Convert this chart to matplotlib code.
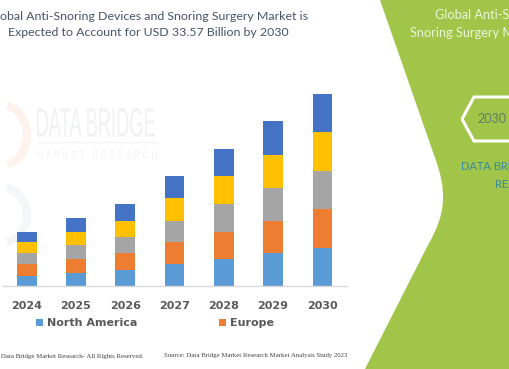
import numpy as np
import matplotlib.pyplot as plt
from matplotlib.path import Path
from matplotlib.patches import PathPatch, Polygon, Patch, Arc
from matplotlib.textpath import TextPath
from matplotlib.font_manager import FontProperties
import matplotlib.transforms as mtransforms

# data (USD billion)
years = ['2024', '2025', '2026', '2027', '2028', '2029', '2030']
north_america = [1.76, 2.34, 2.75, 3.81, 4.69, 5.68, 6.68]
europe = [2.05, 2.40, 2.99, 3.81, 4.75, 5.74, 6.74]
asia_pacific = [1.87, 2.34, 2.75, 3.75, 4.86, 5.74, 6.74]
middle_east_africa = [1.93, 2.40, 2.93, 3.98, 4.86, 5.80, 6.74]
south_america = [1.87, 2.46, 2.93, 3.87, 4.80, 5.86, 6.67]

series = [north_america, europe, asia_pacific, middle_east_africa, south_america]
names = ['North America', 'Europe', 'Asia-Pacific', 'Middle East and Africa', 'South America']
colors = ['#5B9BD5', '#ED7D31', '#A5A5A5', '#FFC000', '#4472C4']

W, H = 510, 369
fig = plt.figure(figsize=(W / 100, H / 100), dpi=100)
fig.patch.set_facecolor('white')

# background layer in pixel coordinates (watermark + green side panel)
bg = fig.add_axes([0, 0, 1, 1], zorder=0)
bg.set_xlim(0, W)
bg.set_ylim(H, 0)
bg.axis('off')

# faint watermark
def stretched_text(ax, s, x0, y0, w, h, color, family='Liberation Sans'):
    tp = TextPath((0, 0), s, size=1, prop=FontProperties(family=family))
    bb = tp.get_extents()
    tr = (mtransforms.Affine2D().translate(-bb.x0, -bb.y0)
          .scale(w / bb.width, -h / bb.height).translate(x0, y0 + h))
    ax.add_patch(PathPatch(tr.transform_path(tp), facecolor=color, edgecolor='none',
                           transform=ax.transData))

stretched_text(bg, 'DATA BRIDGE', 37, 108, 118, 29, '#F0F1F3')
bg.plot([37, 157], [142, 142], color='#F3F4F5', lw=1)
stretched_text(bg, 'M A R K E T   R E S E A R C H', 37, 151, 120, 8, '#F1F2F4')
bg.add_patch(Arc((2, 135), 50, 60, theta1=-80, theta2=80, color='#FDF3EC', lw=6))
bg.add_patch(Arc((2, 215), 50, 55, theta1=-80, theta2=80, color='#F4F6F8', lw=6))

# green panel on the right
verts = [(380, 0), (434, 155), (447, 190), (447, 212), (428, 245),
         (365, 369), (W + 5, 369), (W + 5, 0), (380, 0)]
codes = [Path.MOVETO, Path.LINETO, Path.CURVE4, Path.CURVE4, Path.CURVE4,
         Path.LINETO, Path.LINETO, Path.LINETO, Path.CLOSEPOLY]
bg.add_patch(PathPatch(Path(verts, codes), facecolor='#A0C548', edgecolor='none'))

hexagon = Polygon([(462, 119), (474, 97), (540, 97), (552, 119), (540, 141), (474, 141)],
                  closed=True, facecolor='none', edgecolor='white', lw=2.2)
bg.add_patch(hexagon)
bg.text(491.5, 119, '2030', ha='center', va='center', fontsize=9,
        family='Lato', color='#5F7C6C')
bg.text(461, 167, 'DATA BRIDGE MARKET', ha='left', va='center', fontsize=8,
        family='Lato', color='#3A8A9C')
bg.text(495, 184, 'RESEARCH', ha='left', va='center', fontsize=8,
        family='Lato', color='#3A8A9C')
bg.text(435, 15, 'Global Anti-Snoring Devices and', ha='left', va='center',
        fontsize=9.2, family='Lato', color='#EEF4DC')
bg.text(410, 33, 'Snoring Surgery Market', ha='left', va='center',
        fontsize=9.2, family='Lato', color='#EEF4DC')

# title
title_color = '#44546A'
bg.text(148, 17, 'Global Anti-Snoring Devices and Snoring Surgery Market is',
        ha='center', va='center', fontsize=8.9, family='Lato', color=title_color)
bg.text(148, 33, 'Expected to Account for USD 33.57 Billion by 2030',
        ha='center', va='center', fontsize=8.9, family='Lato', color=title_color)

# footer
bg.text(-6, 356, '\u00a9 Data Bridge Market Research- All Rights Reserved.', ha='left',
        va='center', fontsize=4.95, family='Liberation Serif', color='#404040')
bg.text(164, 356, 'Source: Data Bridge Market Research Market Analysis Study 2023',
        ha='left', va='center', fontsize=4.9, family='Liberation Serif', color='#404040')

# stacked bar chart
ax_left, ax_right = 2, 347
base_y, top_y = 286, 80
ax = fig.add_axes([ax_left / W, (H - base_y) / H, (ax_right - ax_left) / W,
                   (base_y - top_y) / H], zorder=1)
ax.patch.set_alpha(0)

x = np.arange(len(years))
bottom = np.zeros(len(years))
for vals, name, c in zip(series, names, colors):
    ax.bar(x, vals, width=0.4, bottom=bottom, color=c, label=name)
    bottom += np.array(vals)

ax.set_xlim(-0.5, len(years) - 0.5)
ax.set_ylim(0, 36)
ax.set_xticks(x)
ax.set_xticklabels(years, fontsize=8, fontweight='bold', color='#595959')
ax.tick_params(axis='x', length=0, pad=11)
ax.set_yticks([])
for s in ['top', 'right', 'left']:
    ax.spines[s].set_visible(False)
ax.spines['bottom'].set_color('#D9D9D9')
ax.spines['bottom'].set_linewidth(1)

# legend (only the first entries are in view)
handles = [Patch(facecolor=colors[0]), Patch(facecolor=colors[1])]
fig.legend(handles, names[:2], loc='center left', bbox_to_anchor=(36 / W, (H - 323) / H),
           ncol=2, frameon=False, handlelength=0.6, handleheight=0.6, handletextpad=0.35,
           columnspacing=7.4, borderaxespad=0, borderpad=0,
           prop={'weight': 'bold', 'size': 8}, labelcolor='#595959')

fig.savefig('out.png', dpi=100)
